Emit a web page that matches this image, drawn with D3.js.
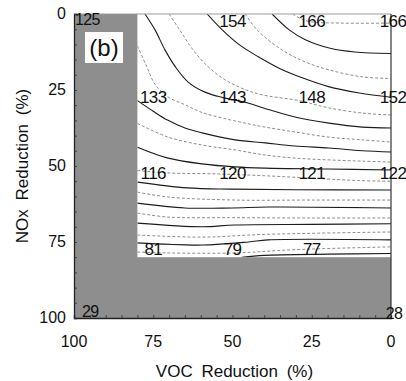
<!DOCTYPE html>
<html>
<head>
<meta charset="utf-8">
<script src="https://cdn.jsdelivr.net/npm/d3@7"></script>
<style>
  html, body { margin: 0; padding: 0; background: #fff; }
  svg { display: block; font-family: "Liberation Sans", Arial, Helvetica, sans-serif; }
</style>
</head>
<body>
<svg id="chart" width="406" height="381"></svg>
<script>
// ---------- data ----------
const xTicks = [100, 75, 50, 25, 0];          // VOC reduction (%)
const yTicks = [0, 25, 50, 75, 100];          // NOx reduction (%)
const maskVOC = 80;                           // VOC reduction beyond which area is grey
const maskNOx = 80;                           // NOx reduction beyond which area is grey

// grid-point labels: [VOC, NOx, value]
const gridLabels = [
  [50, 0, 154], [25, 0, 166], [0, 0, 166],
  [75, 25, 133], [50, 25, 143], [25, 25, 148], [0, 25, 152],
  [75, 50, 116], [50, 50, 120], [25, 50, 121], [0, 50, 122],
  [75, 75, 81], [50, 75, 79], [25, 75, 77]
];
const cornerLabels = [[100, 0, 125], [100, 100, 29], [0, 100, 28]];

// contour levels (ppb) and their traced isolines as [VOC, NOx] points
const contourLevels = [165, 160, 155, 150, 145, 140, 135, 130, 125, 120, 115, 110, 105, 100, 95, 90, 85, 80, 75, 70];
const contourLines = [
  [[31,0],[28,1.8],[25,2.6],[15,3.0],[0,3.0]],
  [[37.5,0],[32,5.3],[27,8.5],[19.5,11.2],[11.4,12.5],[0,13]],
  [[46,0],[42,5.5],[34.4,11.8],[27,15.8],[19.5,18.4],[9,20.7],[0,21.2]],
  [[58,0],[53,5.5],[48,10],[42,14],[35,18],[28,21],[20,23.8],[10,26],[0,27.4]],
  [[70,0],[66.5,5.5],[63,11],[59,16],[54,20.5],[48,24],[41,26.5],[29,28.5],[20,30.8],[9,32.6],[0,33.2]],
  [[77.6,0],[74.4,5.3],[71.3,11.8],[68,17.4],[64,22.4],[58.7,25.7],[53,27.5],[45.4,29.2],[40,31],[30.3,33.9],[19.6,35.9],[9.1,37.2],[0,37.5]],
  [[80,10.5],[77,17.4],[74.4,23.2],[70.3,27.3],[64.9,29.9],[59.6,32.4],[53.3,34.2],[46,35.9],[39.7,37.2],[30.3,38.8],[19.6,40.5],[9.1,41.4],[0,42.1]],
  [[80,28.5],[75,32],[70.5,34.9],[65,37.5],[59.6,39.1],[49.2,41.4],[39.7,42.4],[30.3,43.4],[19.6,44.1],[9.1,45],[0,45.4]],
  [[80,36],[70.3,40.5],[59.6,43.1],[49.2,44.7],[39.7,46.4],[30.3,47.4],[19.6,48],[9.1,48.4],[0,48.7]],
  [[80,43.8],[70.3,47.4],[59.6,49.3],[49.2,50.3],[39.7,50.7],[20,51],[0,51.3]],
  [[80,51.5],[70,52.3],[55,52.6],[40,53.2],[25,54],[10,54.8],[0,55]],
  [[80,55.3],[64.3,57.2],[50,57.6],[30,57.8],[0,57.9]],
  [[80,58.6],[70.3,60.2],[49.2,61.2],[25,61.2],[0,61.2]],
  [[80,62.2],[65,63.8],[50,63.8],[38.8,63.5],[0,63.8]],
  [[80,65.5],[70.3,66.8],[50,67],[25,67.1],[0,67.1]],
  [[80,68.8],[59.6,70],[49.2,69.4],[25,69.2],[0,69]],
  [[80,72.7],[59.6,73.4],[40,72.5],[0,71.7]],
  [[80,75.3],[59.6,76],[45,75],[38.8,74.3],[0,74.3]],
  [[80,78.3],[70.3,78.6],[49.2,78.6],[30,77.5],[0,76.6]],
  [[47,80],[40,79.4],[20,79],[0,78.8]]
];

// ---------- layout ----------
const svg = d3.select("#chart");
const x = d3.scaleLinear().domain([100, 0]).range([74, 391]);
const y = d3.scaleLinear().domain([0, 100]).range([14, 318]);
const grey = "#8e8e8e";

// grey masked regions
svg.append("rect")
  .attr("x", x(100)).attr("y", y(0))
  .attr("width", x(maskVOC) - x(100)).attr("height", y(100) - y(0))
  .attr("fill", grey);
svg.append("rect")
  .attr("x", x(100)).attr("y", y(maskNOx))
  .attr("width", x(0) - x(100)).attr("height", y(100) - y(maskNOx))
  .attr("fill", grey);

// clip for contours
svg.append("clipPath").attr("id", "white")
  .append("rect")
  .attr("x", x(maskVOC)).attr("y", y(0))
  .attr("width", x(0) - x(maskVOC)).attr("height", y(maskNOx) - y(0));

const line = d3.line()
  .x(d => x(d[0])).y(d => y(d[1]))
  .curve(d3.curveCatmullRom.alpha(0.5));

svg.append("g").attr("clip-path", "url(#white)")
  .selectAll("path")
  .data(contourLines)
  .join("path")
  .attr("d", line)
  .attr("fill", "none")
  .attr("stroke", (d, i) => contourLevels[i] % 10 === 0 ? "#1c1c1c" : "#707070")
  .attr("stroke-width", (d, i) => contourLevels[i] % 10 === 0 ? 1.1 : 0.8)
  .attr("stroke-dasharray", (d, i) => contourLevels[i] % 10 === 0 ? null : "3,2");

// frame
svg.append("line").attr("x1", x(100)).attr("x2", x(0)).attr("y1", y(0)).attr("y2", y(0))
  .attr("stroke", "#9a9a9a").attr("stroke-width", 1);
svg.append("line").attr("x1", x(0)).attr("x2", x(0)).attr("y1", y(0)).attr("y2", y(100))
  .attr("stroke", "#333").attr("stroke-width", 1.2);

// axes
const xAxis = d3.axisBottom(x).tickValues(d3.range(0, 101, 5)).tickSize(-3).tickFormat("");
const yAxis = d3.axisLeft(y).tickValues(d3.range(0, 101, 5)).tickSize(-3).tickFormat("");
const gx = svg.append("g").attr("transform", `translate(0,${y(100)})`).call(xAxis);
const gy = svg.append("g").attr("transform", `translate(${x(100)},0)`).call(yAxis);
[gx, gy].forEach(g => {
  g.select(".domain").attr("stroke", "#222").attr("stroke-width", 1.3);
  g.selectAll(".tick line").attr("stroke", "#333").attr("stroke-width", 0.8);
});

// tick labels
svg.append("g").selectAll("text").data(xTicks).join("text")
  .attr("x", d => x(d)).attr("y", y(100) + 29)
  .attr("text-anchor", "middle")
  .attr("font-size", 16).attr("fill", "#111")
  .text(d => d);
svg.append("g").selectAll("text").data(yTicks).join("text")
  .attr("x", x(100) - 8).attr("y", d => y(d) + 5)
  .attr("text-anchor", "end")
  .attr("font-size", 16).attr("fill", "#111")
  .text(d => d);

// axis titles
svg.append("text")
  .attr("x", (x(100) + x(0)) / 2 + 2).attr("y", 377)
  .attr("text-anchor", "middle").attr("font-size", 17).attr("fill", "#111")
  .attr("word-spacing", 4)
  .text("VOC Reduction (%)");
svg.append("text")
  .attr("transform", `translate(28,${(y(0) + y(100)) / 2}) rotate(-90)`)
  .attr("text-anchor", "middle").attr("font-size", 17).attr("fill", "#111")
  .attr("word-spacing", 4)
  .text("NOx Reduction (%)");

// grid-point labels
svg.append("g").selectAll("text").data(gridLabels).join("text")
  .attr("x", d => x(d[0]) + (d[0] === 0 ? 2 : 0))
  .attr("y", d => y(d[1]) + 13)
  .attr("text-anchor", "middle")
  .attr("font-size", 17).attr("fill", "#111")
  .attr("letter-spacing", -0.6)
  .text(d => d[2]);

// corner labels
svg.append("text").attr("x", x(cornerLabels[0][0]) + 1).attr("y", y(cornerLabels[0][1]) + 11)
  .attr("font-size", 16).attr("fill", "#111").attr("letter-spacing", -0.6).text(cornerLabels[0][2]);
svg.append("text").attr("x", x(cornerLabels[1][0]) + 8).attr("y", y(cornerLabels[1][1]) - 1)
  .attr("font-size", 16).attr("fill", "#111").attr("letter-spacing", -0.6).text(cornerLabels[1][2]);
svg.append("text").attr("x", x(cornerLabels[2][0]) + 3).attr("y", y(cornerLabels[2][1]) + 1)
  .attr("text-anchor", "middle")
  .attr("font-size", 16).attr("fill", "#111").attr("letter-spacing", -0.6).text(cornerLabels[2][2]);

// panel label
svg.append("rect").attr("x", 85).attr("y", 32).attr("width", 38).attr("height", 31).attr("fill", "#fff");
svg.append("text").attr("x", 104).attr("y", 56).attr("text-anchor", "middle")
  .attr("font-size", 24).attr("fill", "#111").text("(b)");
</script>
</body>
</html>
